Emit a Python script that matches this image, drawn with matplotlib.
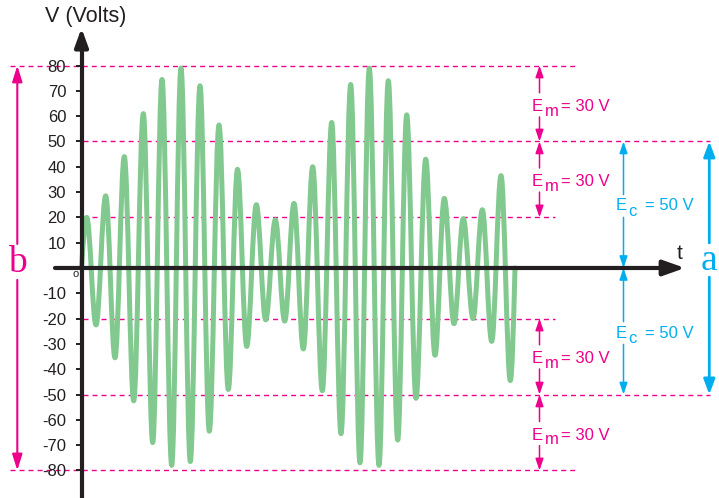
import matplotlib
matplotlib.use('Agg')
import matplotlib.pyplot as plt
from matplotlib.path import Path
from matplotlib.patches import PathPatch

plt.rcParams['font.family'] = ['Liberation Sans', 'DejaVu Sans']

# extrema of the AM wave (t in arbitrary units, V in volts)
t_ext = [0.0, 0.52, 1.45, 2.42, 3.35, 4.28, 5.22, 6.18, 7.12, 8.05, 9.02, 9.95,
         10.88, 11.85, 12.78, 13.75, 14.68, 15.6, 16.52, 17.48, 18.42, 19.38,
         20.32, 21.25, 22.18, 23.12, 24.08, 25.02, 25.95, 26.92, 27.85, 28.78,
         29.75, 30.68, 31.62, 32.52, 33.45, 34.42, 35.35, 36.28, 37.25, 38.18,
         39.15, 40.08, 41.02, 41.95, 42.88, 43.35]
v_ext = [0, 20, -22.5, 28.5, -35.5, 44, -52.5, 61, -69, 74.5, -78, 79,
         -76.5, 72, -64.5, 56.5, -48, 39, -31, 25, -20.5, 19,
         -21, 25.5, -32, 40, -48.5, 57.5, -65.5, 72.5, -77, 79,
         -78, 74, -68, 60.5, -51.5, 43, -34.5, 27.5, -22, 19.5,
         -20, 23, -29, 36.5, -44.5, 0]

yticks = [-80, -70, -60, -50, -40, -30, -20, -10, 10, 20, 30, 40, 50, 60, 70, 80]
ytick_labels = [str(v) for v in yticks]

Ec = 50
Em = 30
levels = [Ec + Em, Ec, Ec - Em, -(Ec - Em), -Ec, -(Ec + Em)]

pink = '#EC008C'
cyan = '#00AEEF'
green = '#82C98F'
dark = '#231F20'

fig = plt.figure(figsize=(7.19, 4.98), dpi=100)
ax = fig.add_axes([0, 0, 1, 1])
ax.set_xlim(-8.15, 63.75)
ax.set_ylim(-90.9, 105.9)

# dashed guide lines
dash = (0, (3.6, 2.9))
ax.hlines([levels[0], levels[5]], -7.15, 49.65, colors=pink, lw=1.0, linestyles=dash, zorder=1)
ax.hlines([levels[1], levels[4]], 0.15, 62.85, colors=pink, lw=1.0, linestyles=dash, zorder=1)
ax.hlines([levels[2], levels[3]], 0.15, 47.35, colors=pink, lw=1.0, linestyles=dash, zorder=1)

# wave: cubic curves between the extrema
verts = [(t_ext[0], v_ext[0])]
codes = [Path.MOVETO]
n = len(t_ext)
for i in range(1, n):
    t0, v0 = t_ext[i - 1], v_ext[i - 1]
    t1, v1 = t_ext[i], v_ext[i]
    dt = t1 - t0
    if i == 1:
        c1 = (t0 + 0.333 * dt, v0 + 0.523 * (v1 - v0))
        c2 = (t1 - 0.364 * dt, v1)
    elif i == n - 1:
        c1 = (t0 + 0.364 * dt, v0)
        c2 = (t1 - 0.333 * dt, v1 - 0.523 * (v1 - v0))
    else:
        c1 = (t0 + 0.364 * dt, v0)
        c2 = (t1 - 0.364 * dt, v1)
    verts += [c1, c2, (t1, v1)]
    codes += [Path.CURVE4] * 3
ax.add_patch(PathPatch(Path(verts, codes), facecolor='none', edgecolor=green,
                       lw=3.6, capstyle='round', joinstyle='round', zorder=2))

# axes
for s in ['top', 'right', 'bottom']:
    ax.spines[s].set_visible(False)
ax.spines['left'].set_position(('data', 0))
ax.spines['left'].set_linewidth(3)
ax.spines['left'].set_color(dark)
ax.spines['left'].set_bounds(-91, 89)
ax.spines['left'].set_zorder(4)
ax.set_xticks([])
ax.set_yticks(yticks, ytick_labels)
ax.tick_params(axis='y', direction='out', length=4.5, width=1.4, pad=6.5,
               labelsize=12, colors=dark)

ax.annotate('', xy=(0, 94.8), xytext=(0, 88), zorder=5,
            arrowprops=dict(arrowstyle='-|>,head_length=0.55,head_width=0.2',
                            mutation_scale=20, lw=3, color=dark,
                            shrinkA=0, shrinkB=0))
ax.annotate('', xy=(60.35, 0), xytext=(-2.65, 0), zorder=5,
            arrowprops=dict(arrowstyle='-|>,head_length=0.65,head_width=0.23',
                            mutation_scale=20, lw=3, color=dark,
                            shrinkA=0, shrinkB=0))

ax.text(0.45, 99.2, 'V (Volts)', ha='center', va='center', fontsize=15.5, color=dark)
ax.text(59.85, 5.9, 't', ha='center', va='center', fontsize=15, color=dark)
ax.text(-0.55, -2.4, 'o', ha='center', va='center', fontsize=8, color=dark)


def arrow(x, y_from, y_to, color, lw=1.1, ms=10, hl=0.7, hw=0.24):
    ax.annotate('', xy=(x, y_to), xytext=(x, y_from), zorder=3,
                arrowprops=dict(arrowstyle='-|>,head_length=%s,head_width=%s' % (hl, hw),
                                mutation_scale=ms, lw=lw, color=color,
                                shrinkA=0, shrinkB=0))


def sub_label(x, y, main, sub, rest, color, dx_sub, dx_rest, drop):
    ax.text(x, y, main, ha='left', va='center', fontsize=12, color=color)
    ax.text(x + dx_sub, y - drop, sub, ha='left', va='center', fontsize=12, color=color)
    ax.text(x + dx_rest, y, rest, ha='left', va='center', fontsize=12, color=color)


# E_m arrows and labels
em_x = 45.8
em_y = [63.7, 34.0, -35.9, -66.2]
em_top = [levels[0], levels[1], levels[3], levels[4]]
em_bot = [levels[1], levels[2], levels[4], levels[5]]
for yc, top, bot in zip(em_y, em_top, em_bot):
    arrow(em_x, yc + 5.5, top, pink)
    arrow(em_x, yc - 4.0, bot, pink)
    sub_label(45.02, yc, 'E', 'm', '= %d V' % Em, pink, 1.33, 2.9, 1.7)

# E_c arrows and labels
ec_x = 54.2
ec_y = [24.5, -25.7]
ec_top = [Ec, 0]
ec_bot = [0, -Ec]
for yc, top, bot in zip(ec_y, ec_top, ec_bot):
    arrow(ec_x, yc + 4.5, top, cyan)
    arrow(ec_x, yc - 4.5, bot, cyan)
    sub_label(53.45, yc, 'E', 'c', '= %d V' % Ec, cyan, 1.23, 2.9, 2.0)

# a and b
arrow(62.78, 9.9, Ec, cyan, lw=2, ms=10, hl=0.91, hw=0.34)
arrow(62.78, -3.6, -Ec, cyan, lw=2, ms=10, hl=0.91, hw=0.34)
ax.text(62.78, 3.0, 'a', ha='center', va='center', fontsize=27, color=cyan,
        family='Liberation Serif')

arrow(-6.42, 9.5, Ec + Em, pink, lw=1.5, ms=10, hl=0.96, hw=0.3)
arrow(-6.42, -4.7, -(Ec + Em), pink, lw=1.5, ms=10, hl=0.96, hw=0.3)
ax.text(-6.42, 2.2, 'b', ha='center', va='center', fontsize=27, color=pink,
        family='Liberation Serif')

plt.savefig('out.png', dpi=100)
plt.close()
